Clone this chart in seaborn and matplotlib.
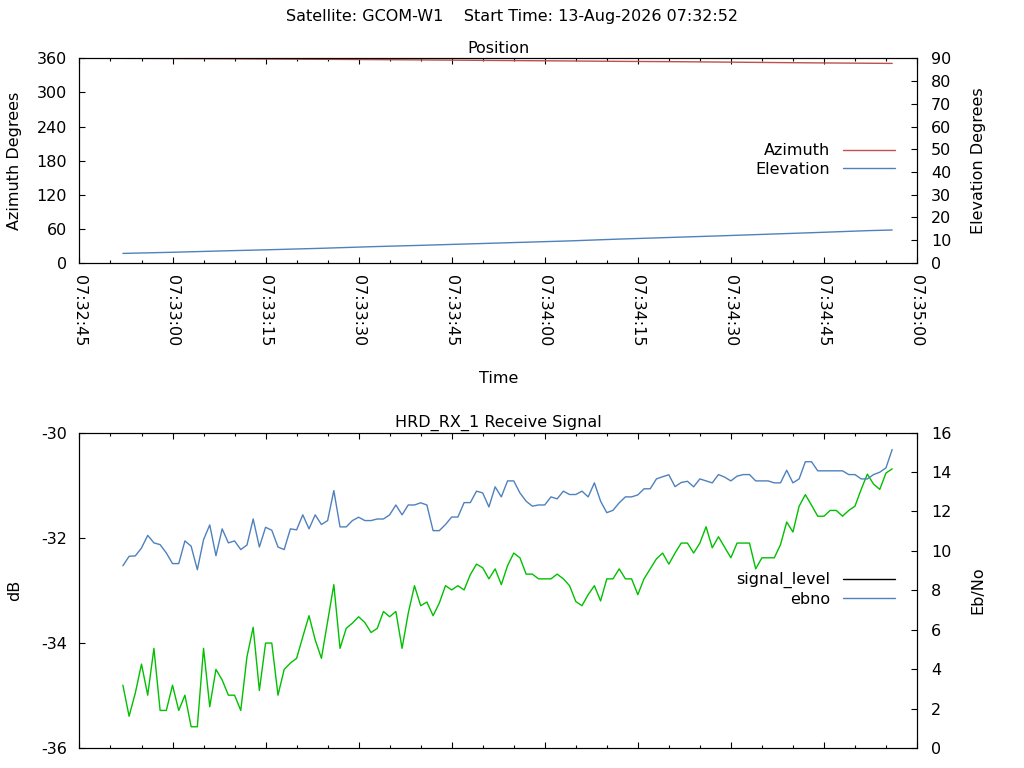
import matplotlib
matplotlib.use("Agg")
import pandas as pd
import matplotlib.pyplot as plt
import matplotlib.dates as mdates
import seaborn as sns
from matplotlib.lines import Line2D

# ---- data ----
start_time = pd.Timestamp("2026-08-13 07:32:52")

# position samples (seconds after start)
pos_offsets = [0, 8, 16, 24, 32, 40, 48, 56, 64, 72, 80, 88, 96, 104, 112, 120, 124]
azimuth = [359.95, 359.6, 359.15, 358.7, 358.2, 357.7, 357.15, 356.5, 355.9,
           355.3, 354.6, 354.1, 353.4, 352.6, 351.9, 351.3, 351.0]
elevation = [4.2, 4.7, 5.3, 5.85, 6.45, 7.15, 7.75, 8.4, 9.05,
             9.7, 10.5, 11.2, 11.9, 12.65, 13.4, 14.2, 14.5]

# receive signal, one sample per second
signal_level = [
    -34.80, -35.39, -34.95, -34.40, -34.99, -34.10, -35.28, -35.28, -34.80, -35.28,
    -34.99, -35.59, -35.59, -34.10, -35.21, -34.50, -34.70, -34.99, -34.99, -35.28,
    -34.26, -33.70, -34.90, -34.00, -34.00, -34.99, -34.50, -34.38, -34.29, -33.88,
    -33.48, -33.94, -34.29, -33.59, -32.89, -34.10, -33.72, -33.62, -33.50, -33.61,
    -33.80, -33.72, -33.40, -33.50, -33.40, -34.10, -33.43, -32.91, -33.29, -33.22,
    -33.48, -33.24, -32.91, -32.99, -32.91, -32.99, -32.70, -32.50, -32.57, -32.78,
    -32.59, -32.89, -32.53, -32.29, -32.38, -32.69, -32.69, -32.78, -32.78, -32.78,
    -32.69, -32.78, -32.91, -33.21, -33.29, -33.08, -32.91, -33.20, -32.78, -32.78,
    -32.59, -32.78, -32.78, -33.08, -32.78, -32.59, -32.40, -32.29, -32.50, -32.29,
    -32.10, -32.10, -32.29, -32.10, -31.79, -32.19, -31.98, -32.18, -32.38, -32.10,
    -32.10, -32.10, -32.59, -32.38, -32.38, -32.38, -32.13, -31.70, -31.89, -31.40,
    -31.18, -31.38, -31.59, -31.59, -31.48, -31.48, -31.59, -31.48, -31.40, -31.08,
    -30.79, -30.98, -31.08, -30.77, -30.69]
ebno = [
    9.25, 9.73, 9.75, 10.15, 10.79, 10.41, 10.32, 9.90, 9.36, 9.36,
    10.51, 10.24, 9.05, 10.57, 11.32, 9.76, 11.12, 10.41, 10.51, 10.07,
    10.30, 11.62, 10.20, 11.20, 11.05, 10.20, 10.07, 11.12, 11.07, 11.83,
    11.12, 11.83, 11.34, 11.54, 13.06, 11.22, 11.22, 11.54, 11.71, 11.54,
    11.54, 11.62, 11.62, 11.83, 12.33, 11.83, 12.33, 12.33, 12.44, 12.33,
    11.03, 11.03, 11.34, 11.72, 11.72, 12.45, 12.45, 13.03, 12.94, 12.23,
    13.25, 12.74, 13.55, 13.55, 12.94, 12.52, 12.27, 12.33, 12.33, 12.74,
    12.64, 13.03, 12.86, 12.86, 13.03, 12.74, 13.45, 12.52, 11.94, 12.06,
    12.44, 12.74, 12.74, 12.84, 13.15, 13.15, 13.65, 13.76, 13.86, 13.26,
    13.47, 13.53, 13.25, 13.65, 13.55, 13.45, 13.87, 13.74, 13.55, 13.79,
    13.87, 13.87, 13.55, 13.55, 13.55, 13.45, 13.45, 14.09, 13.45, 13.65,
    14.52, 14.52, 14.06, 14.06, 14.06, 14.06, 14.06, 13.87, 13.87, 13.65,
    13.65, 13.87, 13.99, 14.21, 15.14]

pos_df = pd.DataFrame({
    "time": start_time + pd.to_timedelta(pos_offsets, unit="s"),
    "azimuth": azimuth,
    "elevation": elevation,
})
sig_df = pd.DataFrame({
    "time": pd.date_range(start_time, periods=len(ebno), freq="1s"),
    "signal_level": signal_level,
    "ebno": ebno,
})

RED = "#c0504d"
BLUE = "#4f81bd"
GREEN = "#00c000"
FS = 11.5

sns.set_style("ticks", {"xtick.direction": "in", "ytick.direction": "in"})
plt.rcParams["font.family"] = ["DejaVu Sans"]
plt.rcParams.update({
    "font.size": FS,
    "axes.unicode_minus": False,
    "text.color": "black",
    "axes.labelcolor": "black",
    "axes.edgecolor": "black",
    "axes.linewidth": 0.8,
    "xtick.color": "black",
    "ytick.color": "black",
    "xtick.major.size": 4.3,
    "xtick.minor.size": 2.2,
    "ytick.major.size": 4.3,
    "xtick.major.width": 0.8,
    "xtick.minor.width": 0.8,
    "ytick.major.width": 0.8,
})

fig = plt.figure(figsize=(10.24, 7.68), dpi=100)
ax1 = fig.add_axes([0.0776, 0.6576, 0.8179, 0.2665])
ax2 = fig.add_axes([0.0776, 0.0256, 0.8179, 0.4112])

xmin = pd.Timestamp("2026-08-13 07:32:45")
xmax = pd.Timestamp("2026-08-13 07:35:00")

# ---- Position panel ----
sns.lineplot(data=pos_df, x="time", y="azimuth", ax=ax1, color=RED, lw=1.0, legend=False)
ax1b = ax1.twinx()
sns.lineplot(data=pos_df, x="time", y="elevation", ax=ax1b, color=BLUE, lw=1.0, legend=False)

ax1.set_ylim(0, 360)
ax1.set_yticks(range(0, 361, 60))
ax1b.set_ylim(0, 90)
ax1b.set_yticks(range(0, 91, 10))

# ---- Receive signal panel ----
sns.lineplot(data=sig_df, x="time", y="signal_level", ax=ax2, color=GREEN, lw=1.0, legend=False)
ax2b = ax2.twinx()
sns.lineplot(data=sig_df, x="time", y="ebno", ax=ax2b, color=BLUE, lw=1.0, legend=False)

ax2.set_ylim(-36, -30)
ax2.set_yticks(range(-36, -29, 2))
ax2b.set_ylim(0, 16)
ax2b.set_yticks(range(0, 17, 2))

for ax in (ax1, ax2):
    ax.set_xlim(xmin, xmax)
    ax.xaxis.set_major_locator(mdates.SecondLocator(bysecond=[0, 15, 30, 45]))
    ax.xaxis.set_minor_locator(mdates.SecondLocator(bysecond=range(0, 60, 5)))
    ax.xaxis.set_major_formatter(mdates.DateFormatter("%H:%M:%S"))
    ax.tick_params(axis="x", which="both", top=True, bottom=True, direction="in")
    ax.tick_params(axis="y", left=True, right=False, direction="in", pad=9)
for ax in (ax1b, ax2b):
    ax.tick_params(axis="y", right=True, left=False, direction="in", pad=10)

ax1.tick_params(axis="x", labelrotation=-90, pad=9)
ax2.tick_params(axis="x", labelbottom=False)

# labels
ax1.set_ylabel("Azimuth Degrees", va="center")
ax1.yaxis.set_label_coords(-0.078, 0.5)
ax1b.set_ylabel("Elevation Degrees", va="center")
ax1b.yaxis.set_label_coords(1.073, 0.5)
ax1.set_xlabel("Time", va="center")
ax1.xaxis.set_label_coords(0.5, -0.566)

ax2.set_xlabel("")
ax2.set_ylabel("dB", va="center")
ax2.yaxis.set_label_coords(-0.078, 0.5)
ax2b.set_ylabel("Eb/No", va="center")
ax2b.yaxis.set_label_coords(1.073, 0.5)

ax1.set_title("Position", pad=4, fontsize=FS)
ax2.set_title("HRD_RX_1 Receive Signal", pad=4, fontsize=FS)
fig.text(0.5, 1 - 17 / 768, "Satellite: GCOM-W1    Start Time: 13-Aug-2026 07:32:52",
         ha="center", va="center", fontsize=FS)

# legends
leg_kw = dict(loc="center right", frameon=False, markerfirst=False, handlelength=3.26,
              handletextpad=0.81, labelspacing=0.22, borderpad=0, borderaxespad=0,
              fontsize=FS)
ax1b.legend([Line2D([], [], color=RED, lw=1.0), Line2D([], [], color=BLUE, lw=1.0)],
            ["Azimuth", "Elevation"], bbox_to_anchor=(0.974, 0.502), **leg_kw)
ax2b.legend([Line2D([], [], color="black", lw=1.0), Line2D([], [], color=BLUE, lw=1.0)],
            ["signal_level", "ebno"], bbox_to_anchor=(0.974, 0.503), **leg_kw)

fig.savefig("out.png", dpi=100)
